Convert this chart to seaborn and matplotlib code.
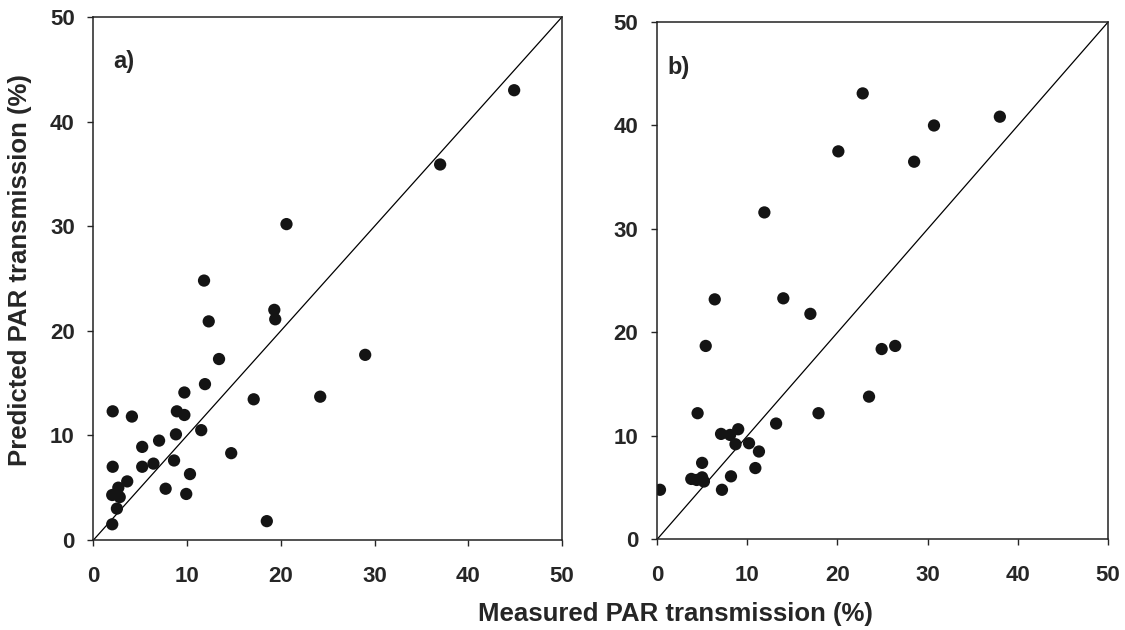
import matplotlib
matplotlib.use("Agg")
import matplotlib.pyplot as plt
import seaborn as sns
import pandas as pd

# Panel a) measured vs predicted PAR transmission (%)
a_measured = [2.0, 2.5, 2.0, 2.8, 2.65, 3.6, 2.05, 5.2, 5.2, 6.4, 7.0, 7.7, 8.6, 8.8,
              9.9, 10.3, 11.5, 2.05, 4.1, 8.9, 9.7, 9.7, 11.9, 14.7, 17.1, 18.5,
              11.8, 12.3, 13.4, 19.3, 19.4, 44.9, 37.0, 20.6, 29.0, 24.2]
a_predicted = [1.5, 3.0, 4.3, 4.1, 5.0, 5.6, 7.0, 7.0, 8.9, 7.3, 9.5, 4.9, 7.6, 10.1,
               4.4, 6.3, 10.5, 12.3, 11.8, 12.3, 11.95, 14.1, 14.9, 8.3, 13.45, 1.8,
               24.8, 20.9, 17.3, 22.0, 21.1, 43.0, 35.9, 30.2, 17.7, 13.7]

# Panel b)
b_measured = [22.8, 38.0, 30.7, 20.1, 28.5, 11.9, 6.4, 14.0, 17.0, 5.4, 24.9, 26.4, 23.5,
              4.5, 17.9, 13.2, 0.33, 7.1, 8.1, 9.0, 8.7, 10.2, 11.3, 10.9, 5.0, 3.8,
              4.4, 5.0, 5.2, 8.2, 7.2]
b_predicted = [43.1, 40.85, 40.0, 37.5, 36.5, 31.6, 23.2, 23.3, 21.8, 18.7, 18.4, 18.7, 13.8,
               12.2, 12.2, 11.2, 4.8, 10.2, 10.1, 10.65, 9.2, 9.3, 8.5, 6.9, 7.4, 5.85,
               5.75, 6.0, 5.6, 6.1, 4.8]

ticks = [0, 10, 20, 30, 40, 50]
panel_labels = ["a)", "b)"]
x_label = "Measured PAR transmission (%)"
y_label = "Predicted PAR transmission (%)"

sns.set_style("ticks")
plt.rcParams["font.family"] = ["Liberation Sans", "DejaVu Sans"]

fig = plt.figure(figsize=(11.25, 6.3), dpi=100)
ax_a = fig.add_axes([0.0831, 0.1429, 0.4164, 0.8301])
ax_b = fig.add_axes([0.584, 0.1437, 0.401, 0.8214])

datasets = [(ax_a, a_measured, a_predicted), (ax_b, b_measured, b_predicted)]
label_pos = [(0.042, 0.915), (0.024, 0.912)]

for i, (ax, xs, ys) in enumerate(datasets):
    df = pd.DataFrame({"measured": xs, "predicted": ys})
    ax.plot([0, 50], [0, 50], color="black", lw=0.9, zorder=1)
    sns.scatterplot(data=df, x="measured", y="predicted", ax=ax, s=78,
                    color="#141414", edgecolor="none", zorder=2)
    ax.set_xlim(0, 50)
    ax.set_ylim(0, 50)
    ax.set_xticks(ticks)
    ax.set_yticks(ticks)
    ax.tick_params(direction="out", length=4.5, width=1, labelsize=16,
                   top=False, right=False)
    ax.tick_params(axis="x", pad=14)
    ax.tick_params(axis="y", pad=9)
    for lab in ax.get_xticklabels() + ax.get_yticklabels():
        lab.set_fontweight("bold")
    for sp in ax.spines.values():
        sp.set_linewidth(1.1)
        sp.set_color("#222222")
    ax.set_xlabel("")
    ax.set_ylabel("")
    ax.text(label_pos[i][0], label_pos[i][1], panel_labels[i], transform=ax.transAxes,
            fontsize=17, fontweight="bold", va="center", ha="left")

fig.text(0.0175, 0.571, y_label, fontsize=18.5, fontweight="bold", ha="center",
         va="center", rotation=90)
fig.text(0.6, 0.026, x_label, fontsize=18.5, fontweight="bold", ha="center", va="center")

fig.savefig("out.png", dpi=100)
